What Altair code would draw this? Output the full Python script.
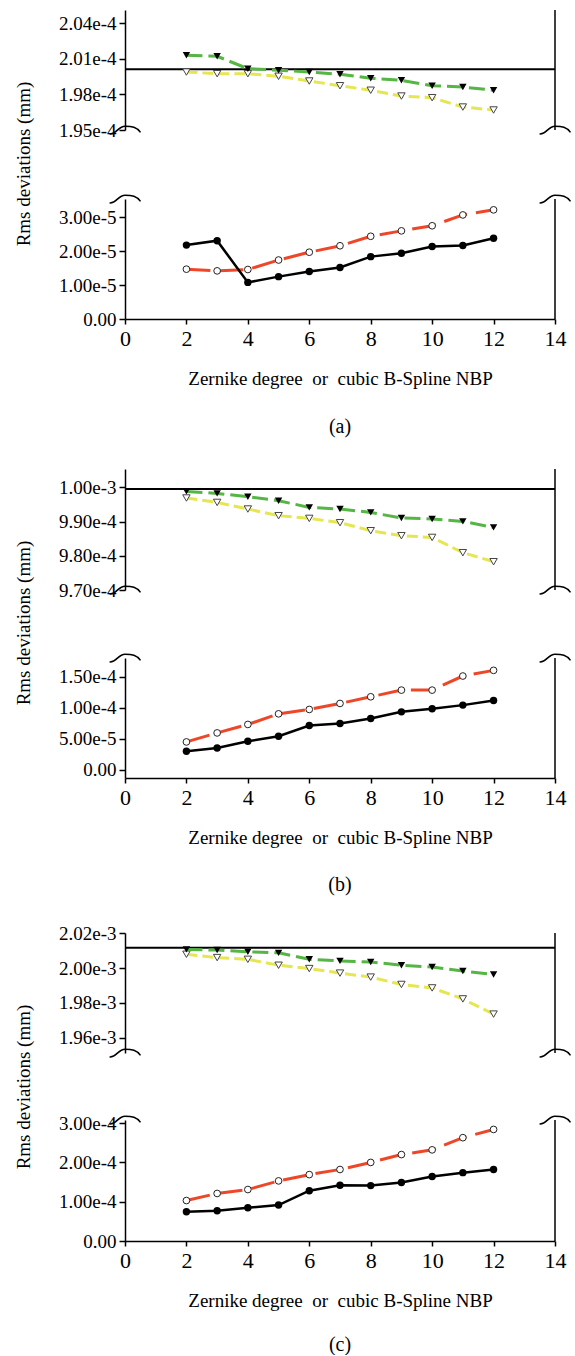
import altair as alt
import pandas as pd

FONT = "Liberation Serif, Times New Roman, Times, serif"
X = [2, 3, 4, 5, 6, 7, 8, 9, 10, 11, 12]

# ---------------- panel (a) ----------------
a_green = [2.0131e-4, 2.0123e-4, 2.0018e-4, 2.0005e-4, 1.9990e-4, 1.9971e-4,
           1.9937e-4, 1.9920e-4, 1.9874e-4, 1.9863e-4, 1.9836e-4]
a_yellow = [1.9990e-4, 1.9976e-4, 1.9976e-4, 1.9954e-4, 1.9914e-4, 1.9874e-4,
            1.9836e-4, 1.9787e-4, 1.9773e-4, 1.9694e-4, 1.9669e-4]
a_red = [1.47e-5, 1.42e-5, 1.46e-5, 1.74e-5, 1.97e-5, 2.16e-5,
         2.44e-5, 2.60e-5, 2.75e-5, 3.07e-5, 3.22e-5]
a_black = [2.18e-5, 2.31e-5, 1.08e-5, 1.25e-5, 1.40e-5, 1.52e-5,
           1.84e-5, 1.94e-5, 2.14e-5, 2.17e-5, 2.38e-5]
a_ref = 2.0013e-4
a_up_ticks = [1.95e-4, 1.98e-4, 2.01e-4, 2.04e-4]
a_low_ticks = [0, 1e-5, 2e-5, 3e-5]
a_up_dom = [1.95e-4, 2.0514e-4]
a_low_dom = [0, 3.54e-5]

# ---------------- panel (b) ----------------
b_green = [9.9883e-4, 9.9825e-4, 9.9728e-4, 9.9611e-4, 9.9415e-4, 9.9368e-4,
           9.9269e-4, 9.9105e-4, 9.9076e-4, 9.9006e-4, 9.8830e-4]
b_yellow = [9.9690e-4, 9.9561e-4, 9.9368e-4, 9.9173e-4, 9.9094e-4, 9.8968e-4,
            9.8734e-4, 9.8588e-4, 9.8538e-4, 9.8091e-4, 9.7827e-4]
b_red = [4.48e-5, 5.94e-5, 7.31e-5, 9.03e-5, 9.74e-5, 10.71e-5,
         11.79e-5, 12.87e-5, 12.87e-5, 15.15e-5, 16.07e-5]
b_black = [2.97e-5, 3.51e-5, 4.59e-5, 5.41e-5, 7.14e-5, 7.47e-5,
           8.28e-5, 9.35e-5, 9.84e-5, 10.44e-5, 11.2e-5]
b_ref = 9.9953e-4
b_up_ticks = [9.7e-4, 9.8e-4, 9.9e-4, 1.0e-3]
b_low_ticks = [0, 5e-5, 1e-4, 1.5e-4]
b_up_dom = [9.70e-4, 1.00538e-3]
b_low_dom = [-1.36e-5, 1.807e-4]

# ---------------- panel (c) ----------------
c_green = [2.0107e-3, 2.0103e-3, 2.0093e-3, 2.0087e-3, 2.0050e-3, 2.0041e-3,
           2.0035e-3, 2.0016e-3, 2.0006e-3, 1.9983e-3, 1.9963e-3]
c_yellow = [2.0079e-3, 2.0060e-3, 2.0050e-3, 2.0016e-3, 1.9997e-3, 1.9971e-3,
            1.9948e-3, 1.9906e-3, 1.9886e-3, 1.9823e-3, 1.9736e-3]
c_red = [1.03e-4, 1.21e-4, 1.31e-4, 1.53e-4, 1.69e-4, 1.82e-4,
         2.00e-4, 2.20e-4, 2.32e-4, 2.63e-4, 2.84e-4]
c_black = [0.746e-4, 0.771e-4, 0.847e-4, 0.916e-4, 1.28e-4, 1.42e-4,
           1.41e-4, 1.49e-4, 1.64e-4, 1.74e-4, 1.82e-4]
c_ref = 2.01161e-3
c_up_ticks = [1.96e-3, 1.98e-3, 2.00e-3, 2.02e-3]
c_low_ticks = [0, 1e-4, 2e-4, 3e-4]
c_up_dom = [1.95129e-3, 2.02009e-3]
c_low_dom = [0, 3.08e-4]

X_TICKS = [0, 2, 4, 6, 8, 10, 12, 14]
X_TITLE = "Zernike degree\u00a0 or\u00a0 cubic B-Spline NBP"
Y_TITLE = "Rms deviations (mm)"

GREEN = "#55b545"
YELLOW = "#e6e650"
RED = "#f04628"
W = 430
BRACE = "M -1 0.25 C -0.55 0.3 -0.45 -0.25 0 -0.25 C 0.45 -0.25 0.75 -0.2 1 0.15"
LABEL_EXPR = "datum.value == 0 ? '0.00' : format(datum.value, '.2e')"


def ydef(dom, ticks, rng=None):
    sc = alt.Scale(domain=dom, nice=False, zero=False) if rng is None else \
        alt.Scale(domain=dom, range=rng, nice=False, zero=False)
    return alt.Y("v:Q", scale=sc,
                 axis=alt.Axis(values=ticks, labelExpr=LABEL_EXPR, title=None, grid=False,
                               labelFont=FONT, labelFontSize=19, tickSize=6, labelPadding=3))


def xdef(show_axis):
    sc = alt.Scale(domain=[0, 14], nice=False, zero=False)
    if not show_axis:
        return alt.X("x:Q", scale=sc, axis=None)
    return alt.X("x:Q", scale=sc,
                 axis=alt.Axis(values=X_TICKS, format="d", title=X_TITLE, grid=False,
                               labelFont=FONT, labelFontSize=22, labelFlush=False,
                               tickSize=5, labelPadding=4, titleFont=FONT,
                               titleFontSize=19, titleFontWeight="normal",
                               titlePadding=20))


def series_layers(vals, kind, X_enc, Y_enc):
    df = pd.DataFrame({"x": X, "v": vals})
    base = alt.Chart(df)
    if kind == "green":
        ln = base.mark_line(color=GREEN, strokeWidth=3, strokeDash=[16, 6])
        pt = base.mark_point(shape="triangle-down", filled=True, color="black", size=55, opacity=1)
    elif kind == "yellow":
        ln = base.mark_line(color=YELLOW, strokeWidth=3, strokeDash=[11, 5])
        pt = base.mark_point(shape="triangle-down", filled=True, fill="white", stroke="#444",
                             strokeWidth=1, size=55, opacity=1)
    elif kind == "red":
        ln = base.mark_line(color=RED, strokeWidth=3, strokeDash=[24, 9])
        pt = base.mark_point(shape="circle", filled=True, fill="white", stroke="#222",
                             strokeWidth=1, size=45, opacity=1)
    else:
        ln = base.mark_line(color="black", strokeWidth=2.5)
        pt = base.mark_point(shape="circle", filled=True, color="black", size=55, opacity=1)
    return [ln.encode(x=X_enc, y=Y_enc), pt.encode(x=X_enc, y=Y_enc)]


def frame_layers(dom, X_enc, Y_enc, brace_at):
    right = alt.Chart(pd.DataFrame({"x": [14], "v": [dom[0]], "v2": [dom[1]]})).mark_rule(
        color="black", strokeWidth=1.5).encode(x=X_enc, y=Y_enc, y2="v2:Q")
    braces = alt.Chart(pd.DataFrame({"x": [0, 14], "v": [brace_at, brace_at]})).mark_point(
        shape=BRACE, filled=False, stroke="black", strokeWidth=1.5, size=960, opacity=1
    ).encode(x=X_enc, y=Y_enc)
    return [right, braces]


def upper(green, yellow, ref, dom, ticks, rng, height, title_y):
    X_enc = xdef(False)
    Y_enc = ydef(dom, ticks, rng)
    refl = alt.Chart(pd.DataFrame({"x": [0], "x2": [14], "v": [ref]})).mark_rule(
        color="black", strokeWidth=2).encode(x=X_enc, x2="x2:Q", y=Y_enc)
    ytitle = alt.Chart(pd.DataFrame({"t": [Y_TITLE]})).mark_text(
        angle=270, font=FONT, fontSize=19, align="center", baseline="middle", color="black"
    ).encode(text="t:N", x=alt.value(-101), y=alt.value(title_y))
    layers = frame_layers(dom, X_enc, Y_enc, dom[0]) + [refl]
    layers += series_layers(yellow, "yellow", X_enc, Y_enc)
    layers += series_layers(green, "green", X_enc, Y_enc)
    layers += [ytitle]
    return alt.layer(*layers).properties(width=W, height=height)


def lower(red, black, dom, ticks, height, caption, cap_off):
    X_enc = xdef(True)
    Y_enc = ydef(dom, ticks)
    cap = alt.Chart(pd.DataFrame({"t": [caption]})).mark_text(
        font=FONT, fontSize=20, align="center", baseline="middle", color="black"
    ).encode(text="t:N", x=alt.value(W / 2), y=alt.value(height + cap_off))
    layers = frame_layers(dom, X_enc, Y_enc, dom[1])
    layers += series_layers(red, "red", X_enc, Y_enc)
    layers += series_layers(black, "black", X_enc, Y_enc)
    layers += [cap]
    return alt.layer(*layers).properties(width=W, height=height)


c1 = upper(a_green, a_yellow, a_ref, a_up_dom, a_up_ticks, [120, 0], 189, 154)
c2 = lower(a_red, a_black, a_low_dom, a_low_ticks, 120, "(a)", 108)
c3 = upper(b_green, b_yellow, b_ref, b_up_dom, b_up_ticks, [271, 150], 339, 304)
c4 = lower(b_red, b_black, b_low_dom, b_low_ticks, 120, "(b)", 107)
c5 = upper(c_green, c_yellow, c_ref, c_up_dom, c_up_ticks, [275, 155], 342, 309)
c6 = lower(c_red, c_black, c_low_dom, c_low_ticks, 121, "(c)", 104)

chart = alt.vconcat(c1, c2, c3, c4, c5, c6, spacing=0, bounds="flush").properties(
    padding={"left": 15, "top": 9, "right": 0, "bottom": 0}
).configure_view(stroke=None).configure_axis(
    domainColor="black", tickColor="black", labelColor="black", titleColor="black",
    domainWidth=1.5, tickWidth=1.5, labelFont=FONT, titleFont=FONT
).configure_text(font=FONT)

chart.save("out.html", embed_options={"renderer": "svg", "actions": False})
